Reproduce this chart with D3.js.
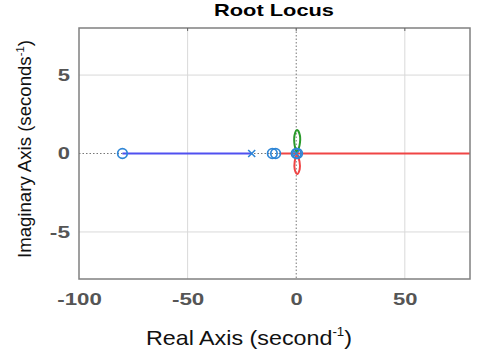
<!DOCTYPE html>
<html>
<head>
<meta charset="utf-8">
<script src="https://cdn.jsdelivr.net/npm/d3@7"></script>
<style>
  body { margin: 0; background: #fff; }
  text { font-family: Arial, "Liberation Sans", sans-serif; }
</style>
</head>
<body>
<div class="vis"></div>
<script>
// values
const xTicks = [-100, -50, 0, 50];
const yTicks = [-5, 0, 5];
const zeros = [-80, -11, -9.5, 0, 0.6];
const poles = [-20.5, 0];
const blueBranch = [[-20.5, 0], [-80, 0]];
const redBranch = [[-7, 0], [80, 0]];
const greenLoop = [[0.3, 0], [1.5, 0.5], [1.7, 1.15], [0.4, 1.5], [-0.8, 1.15], [-0.7, 0.5], [0.3, 0]];
const redLoop = [[0.3, 0], [1.5, -0.5], [1.6, -1.0], [0.4, -1.3], [-0.7, -1.0], [-0.7, -0.5], [0.3, 0]];

const W = 480, H = 354;
const m = { l: 79, r: 10, t: 28, b: 75 };
const w = W - m.l - m.r, h = H - m.t - m.b;

const svg = d3.select(".vis").append("svg").attr("width", W).attr("height", H);
const g = svg.append("g").attr("transform", `translate(${m.l},${m.t})`);

const x = d3.scaleLinear().domain([-100, 80]).range([0, w]);
const y = d3.scaleLinear().domain([8, -8]).range([0, h]);

// grid
g.append("g").selectAll("line").data(xTicks.filter(d => d !== 0 && d !== -100)).join("line")
  .attr("x1", d => x(d)).attr("x2", d => x(d)).attr("y1", 0).attr("y2", h)
  .attr("stroke", "#d9d9d9").attr("stroke-width", 1);
g.append("g").selectAll("line").data(yTicks.filter(d => d !== 0)).join("line")
  .attr("y1", d => y(d)).attr("y2", d => y(d)).attr("x1", 0).attr("x2", w)
  .attr("stroke", "#d9d9d9").attr("stroke-width", 1);

// dotted zero axes
g.append("line").attr("x1", x(0)).attr("x2", x(0)).attr("y1", 0).attr("y2", h)
  .attr("stroke", "#777").attr("stroke-dasharray", "1.5,2").attr("stroke-width", 1);
g.append("line").attr("x1", 0).attr("x2", w).attr("y1", y(0)).attr("y2", y(0))
  .attr("stroke", "#777").attr("stroke-dasharray", "1.5,2").attr("stroke-width", 1);

const line = d3.line().x(d => x(d[0])).y(d => y(d[1]));
const smooth = d3.line().x(d => x(d[0])).y(d => y(d[1])).curve(d3.curveCatmullRom);

g.append("path").datum(blueBranch).attr("d", line).attr("fill", "none")
  .attr("stroke", "#5050f0").attr("stroke-width", 2);
g.append("path").datum(redBranch).attr("d", line).attr("fill", "none")
  .attr("stroke", "#f04545").attr("stroke-width", 2);
g.append("path").datum(greenLoop).attr("d", smooth).attr("fill", "none")
  .attr("stroke", "#2a9a2a").attr("stroke-width", 2);
g.append("path").datum(redLoop).attr("d", smooth).attr("fill", "none")
  .attr("stroke", "#f04545").attr("stroke-width", 2);

// zeros and poles
const mark = "#2f86d6";
g.append("g").selectAll("circle").data(zeros).join("circle")
  .attr("cx", d => x(d)).attr("cy", y(0)).attr("r", 4.8)
  .attr("fill", "none").attr("stroke", mark).attr("stroke-width", 1.7);
const s = 3.5;
g.append("g").selectAll("path").data(poles).join("path")
  .attr("d", d => `M${x(d) - s},${y(0) - s}L${x(d) + s},${y(0) + s}M${x(d) - s},${y(0) + s}L${x(d) + s},${y(0) - s}`)
  .attr("stroke", mark).attr("stroke-width", 1.6);

// frame
g.append("rect").attr("width", w).attr("height", h).attr("fill", "none")
  .attr("stroke", "#808080").attr("stroke-width", 1.5);

// tick labels look stretched sideways in the original
const labLen = d => String(d).split("").reduce((a, c) => a + (c === "-" ? 0.36 : 0.556), 0) * 22;
const xa = g.append("g").attr("transform", `translate(0,${h})`)
  .call(d3.axisBottom(x).tickValues(xTicks).tickFormat(d => String(d)).tickSize(0).tickPadding(14));
const ya = g.append("g").call(d3.axisLeft(y).tickValues(yTicks).tickFormat(d => String(d)).tickSize(0).tickPadding(9));
[xa, ya].forEach(a => {
  a.select(".domain").remove();
  a.selectAll("text").attr("font-size", 17).attr("font-weight", "bold").attr("fill", "#555")
    .attr("font-family", "Arial, 'Liberation Sans', sans-serif")
    .attr("textLength", d => labLen(d)).attr("lengthAdjust", "spacingAndGlyphs");
});
// top tick marks
g.append("g").selectAll("line").data(xTicks.filter(d => d !== -100)).join("line")
  .attr("x1", d => x(d)).attr("x2", d => x(d)).attr("y1", 0).attr("y2", 3)
  .attr("stroke", "#666");

svg.append("text").attr("x", 274).attr("y", 16).attr("text-anchor", "middle")
  .attr("font-size", 17).attr("font-weight", "bold")
  .attr("textLength", 120).attr("lengthAdjust", "spacingAndGlyphs").text("Root Locus");

const xl = svg.append("text").attr("x", 249).attr("y", 345).attr("text-anchor", "middle")
  .attr("font-size", 21).attr("fill", "#111")
  .attr("textLength", 206).attr("lengthAdjust", "spacingAndGlyphs");
xl.append("tspan").text("Real Axis (second");
xl.append("tspan").attr("font-size", 12).attr("dy", -9).text("-1");
xl.append("tspan").attr("dy", 9).text(")");

const yl = svg.append("text").attr("transform", `translate(31,${m.t + 121}) rotate(-90)`)
  .attr("text-anchor", "middle").attr("font-size", 18).attr("fill", "#111")
  .attr("textLength", 218).attr("lengthAdjust", "spacingAndGlyphs");
yl.append("tspan").text("Imaginary Axis (seconds");
yl.append("tspan").attr("font-size", 11).attr("dy", -7).text("-1");
yl.append("tspan").attr("dy", 7).text(")");
</script>
</body>
</html>
